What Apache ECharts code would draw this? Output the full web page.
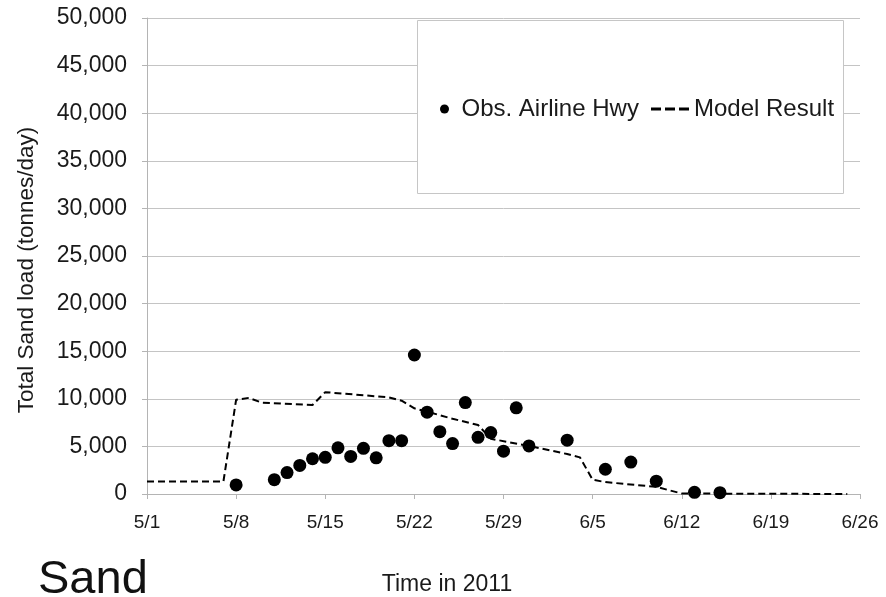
<!DOCTYPE html>
<html>
<head>
<meta charset="utf-8">
<title>Total Sand load</title>
<script src="https://cdn.jsdelivr.net/npm/echarts@6/dist/echarts.min.js"></script>
<style>
  html, body { margin: 0; padding: 0; background: #ffffff; }
  #chart { width: 886px; height: 597px; }
</style>
</head>
<body>
<div id="chart"></div>
<script>
// Observed sand load at Airline Hwy (tonnes/day)
const obsDates = ['5/8', '5/11', '5/12', '5/13', '5/14', '5/15', '5/16', '5/17', '5/18', '5/19',
  '5/20', '5/21', '5/22', '5/23', '5/24', '5/25', '5/26', '5/27', '5/28', '5/29',
  '5/30', '5/31', '6/3', '6/6', '6/8', '6/10', '6/13', '6/15'];
const obsValues = [950, 1500, 2250, 3000, 3700, 3850, 4850, 3950, 4800, 3800,
  5600, 5600, 14600, 8600, 6550, 5300, 9600, 5950, 6450, 4500,
  9050, 5050, 5650, 2600, 3350, 1350, 180, 140];

// Model result (tonnes/day)
const modelDates = ['5/1', '5/7', '5/8', '5/9', '5/10', '5/14', '5/15', '5/20', '5/21', '5/22',
  '5/23', '5/25', '5/27', '5/28', '5/31', '6/3', '6/4', '6/5', '6/6', '6/10', '6/12', '6/25'];
const modelValues = [1300, 1300, 9900, 10100, 9600, 9350, 10700, 10150, 9800, 9000,
  8650, 7900, 7250, 5800, 5050, 4200, 3850, 1500, 1250, 750, 50, 0];

// Axis tick labels
const xTickLabels = ['5/1', '5/8', '5/15', '5/22', '5/29', '6/5', '6/12', '6/19', '6/26'];

const seriesNames = ['Obs. Airline Hwy', 'Model Result'];

// day offset from 5/1/2011
function dayOf(s) {
  const [m, d] = s.split('/').map(Number);
  return (Date.UTC(2011, m - 1, d) - Date.UTC(2011, 4, 1)) / 86400000;
}

const obsData = obsDates.map((d, i) => [dayOf(d), obsValues[i]]);
const modelData = modelDates.map((d, i) => [dayOf(d), modelValues[i]]);

const FONT = '"Liberation Sans", Arial, sans-serif';
const TEXT = '#1a1a1a';

// three short dashes used as the model legend key
const DASH_ICON = 'path://M0,0h10v3h-10z M14,0h10v3h-10z M28,0h10v3h-10z';

const chart = echarts.init(document.getElementById('chart'), null, { renderer: 'canvas' });

chart.setOption({
  backgroundColor: '#ffffff',
  animation: false,
  grid: { left: 147, right: 26, top: 18, bottom: 103, containLabel: false },
  xAxis: {
    type: 'value',
    min: 0,
    max: 56,
    interval: 7,
    axisLine: { show: true, lineStyle: { color: '#b4b4b4', width: 1 } },
    axisTick: { show: true, inside: false, length: 5, lineStyle: { color: '#b4b4b4' } },
    splitLine: { show: false },
    axisLabel: {
      margin: 19,
      fontSize: 19,
      fontFamily: FONT,
      color: TEXT,
      formatter: v => xTickLabels[Math.round(v / 7)]
    }
  },
  yAxis: {
    type: 'value',
    min: 0,
    max: 50000,
    interval: 5000,
    axisLine: { show: true, lineStyle: { color: '#b4b4b4', width: 1 } },
    axisTick: { show: true, inside: false, length: 5, lineStyle: { color: '#b4b4b4' } },
    splitLine: { show: true, lineStyle: { color: '#c4c4c4', width: 1 } },
    axisLabel: {
      margin: 20,
      fontSize: 23,
      fontFamily: FONT,
      color: TEXT,
      formatter: v => v.toLocaleString('en-US')
    }
  },
  legend: [
    {
      data: [{ name: seriesNames[0], icon: 'circle' }],
      left: 435,
      top: 92,
      itemWidth: 24,
      itemHeight: 9,
      z: 10,
      textStyle: { fontSize: 24, fontFamily: FONT, color: TEXT }
    },
    {
      data: [{ name: seriesNames[1], icon: DASH_ICON, itemStyle: { color: '#000000' } }],
      left: 646,
      top: 92,
      itemWidth: 38,
      itemHeight: 3,
      z: 10,
      textStyle: { fontSize: 24, fontFamily: FONT, color: TEXT }
    }
  ],
  graphic: [
    {
      type: 'rect',
      z: 3,
      shape: { x: 417.5, y: 20.5, width: 426, height: 173 },
      style: { fill: '#ffffff', stroke: '#c6c6c6', lineWidth: 1 }
    },
    {
      type: 'text',
      z: 3,
      x: 27,
      y: 270,
      rotation: Math.PI / 2,
      style: {
        text: 'Total Sand load (tonnes/day)',
        font: '22.5px ' + FONT,
        fill: TEXT,
        align: 'center',
        verticalAlign: 'middle'
      }
    },
    {
      type: 'text',
      z: 3,
      x: 447,
      y: 585,
      style: {
        text: 'Time in 2011',
        font: '23px ' + FONT,
        fill: TEXT,
        align: 'center',
        verticalAlign: 'middle'
      }
    },
    {
      type: 'text',
      z: 3,
      x: 38,
      y: 580,
      style: {
        text: 'Sand',
        font: '47px ' + FONT,
        fill: '#111111',
        align: 'left',
        verticalAlign: 'middle'
      }
    }
  ],
  series: [
    {
      name: seriesNames[0],
      type: 'scatter',
      data: obsData,
      symbol: 'circle',
      symbolSize: 13,
      itemStyle: { color: '#000000', opacity: 1 },
      z: 4
    },
    {
      name: seriesNames[1],
      type: 'line',
      data: modelData,
      symbol: 'none',
      showSymbol: false,
      lineStyle: { color: '#000000', width: 2, type: [7, 4] },
      itemStyle: { color: '#000000' },
      z: 3
    }
  ]
});
</script>
</body>
</html>
